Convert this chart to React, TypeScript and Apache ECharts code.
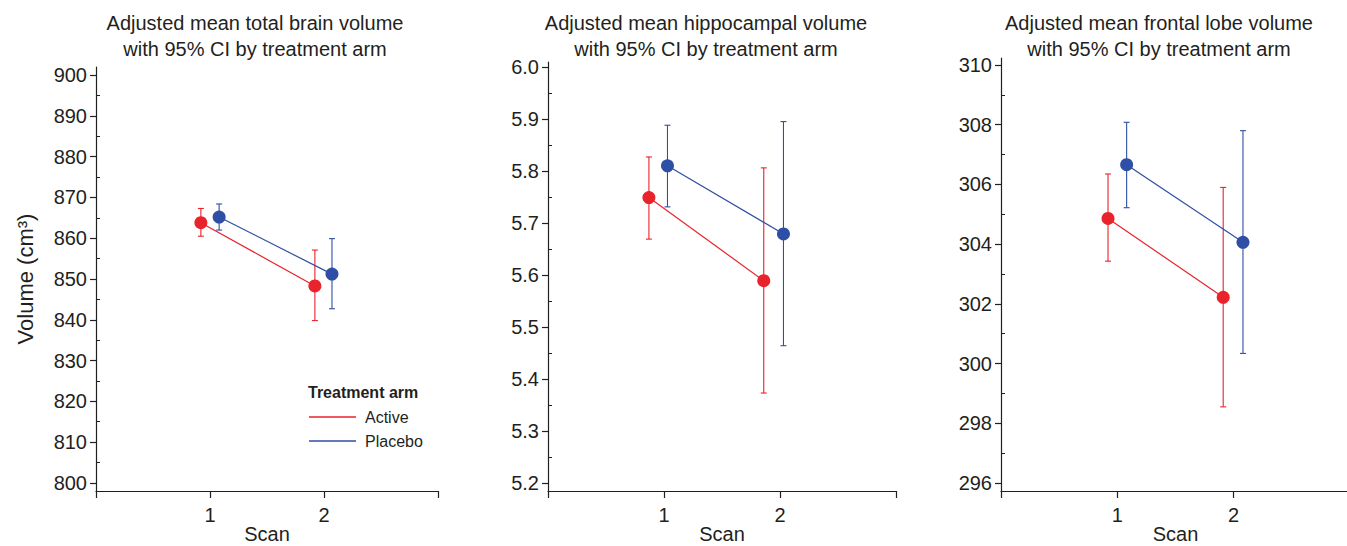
import React, { useEffect, useRef } from "react";
import * as echarts from "echarts";

// ---------- data ----------
const scanLabels = [1, 2];
const armNames = ["Active", "Placebo"];

const panelTitles = [
  "Adjusted mean total brain volume\nwith 95% CI by treatment arm",
  "Adjusted mean hippocampal volume\nwith 95% CI by treatment arm",
  "Adjusted mean frontal lobe volume\nwith 95% CI by treatment arm",
];

// Panel 1: total brain volume
const brainActiveX = [0.92, 1.92];
const brainActiveMean = [863.8, 848.3];
const brainActiveLow = [860.5, 839.8];
const brainActiveHigh = [867.3, 857.1];
const brainPlaceboX = [1.08, 2.07];
const brainPlaceboMean = [865.2, 851.2];
const brainPlaceboLow = [862.0, 842.7];
const brainPlaceboHigh = [868.4, 859.9];
const brainTicks = [800, 810, 820, 830, 840, 850, 860, 870, 880, 890, 900];

// Panel 2: hippocampal volume
const hippoActiveX = [0.87, 1.86];
const hippoActiveMean = [5.749, 5.589];
const hippoActiveLow = [5.669, 5.373];
const hippoActiveHigh = [5.827, 5.806];
const hippoPlaceboX = [1.03, 2.03];
const hippoPlaceboMean = [5.81, 5.679];
const hippoPlaceboLow = [5.731, 5.464];
const hippoPlaceboHigh = [5.888, 5.895];
const hippoTicks = [5.2, 5.3, 5.4, 5.5, 5.6, 5.7, 5.8, 5.9, 6.0];

// Panel 3: frontal lobe volume
const frontalActiveX = [0.92, 1.91];
const frontalActiveMean = [304.86, 302.22];
const frontalActiveLow = [303.43, 298.55];
const frontalActiveHigh = [306.35, 305.9];
const frontalPlaceboX = [1.08, 2.08];
const frontalPlaceboMean = [306.66, 304.06];
const frontalPlaceboLow = [305.22, 300.34];
const frontalPlaceboHigh = [308.08, 307.8];
const frontalTicks = [296, 298, 300, 302, 304, 306, 308, 310];

// ---------- layout / style ----------
const RED = "#e8232b";
const BLUE = "#2f4fa6";
const INK = "#231f20";
const FONT = "'Liberation Sans', Arial, Helvetica, sans-serif";

const panels = [
  {
    title: panelTitles[0], titleX: 255,
    grid: { left: 96, top: 67, width: 342, height: 424 },
    yMin: 798, yMax: 902, ticks: brainTicks, decimals: 0,
    active: { x: brainActiveX, mean: brainActiveMean, low: brainActiveLow, high: brainActiveHigh },
    placebo: { x: brainPlaceboX, mean: brainPlaceboMean, low: brainPlaceboLow, high: brainPlaceboHigh },
  },
  {
    title: panelTitles[1], titleX: 706,
    grid: { left: 548, top: 62, width: 348, height: 429 },
    yMin: 5.1846, yMax: 6.0096, ticks: hippoTicks, decimals: 1,
    active: { x: hippoActiveX, mean: hippoActiveMean, low: hippoActiveLow, high: hippoActiveHigh },
    placebo: { x: hippoPlaceboX, mean: hippoPlaceboMean, low: hippoPlaceboLow, high: hippoPlaceboHigh },
  },
  {
    title: panelTitles[2], titleX: 1159,
    grid: { left: 1001, top: 58, width: 349, height: 433 },
    yMin: 295.732, yMax: 310.234, ticks: frontalTicks, decimals: 0,
    active: { x: frontalActiveX, mean: frontalActiveMean, low: frontalActiveLow, high: frontalActiveHigh },
    placebo: { x: frontalPlaceboX, mean: frontalPlaceboMean, low: frontalPlaceboLow, high: frontalPlaceboHigh },
  },
];

function minorOf(ticks: number[]): number[] {
  const out: number[] = [];
  for (let i = 0; i < ticks.length - 1; i++) out.push((ticks[i] + ticks[i + 1]) / 2);
  return out;
}

function errorBarRender(color: string) {
  return (params: any, api: any) => {
    const x = api.value(0);
    const lo = api.coord([x, api.value(1)]);
    const hi = api.coord([x, api.value(2)]);
    const cap = 3;
    const style = { stroke: color, lineWidth: 1.1 };
    return {
      type: "group",
      children: [
        { type: "line", shape: { x1: lo[0], y1: lo[1], x2: hi[0], y2: hi[1] }, style },
        { type: "line", shape: { x1: lo[0] - cap, y1: lo[1], x2: lo[0] + cap, y2: lo[1] }, style },
        { type: "line", shape: { x1: hi[0] - cap, y1: hi[1], x2: hi[0] + cap, y2: hi[1] }, style },
      ],
    };
  };
}

function buildOption() {
  const grids: any[] = [];
  const xAxes: any[] = [];
  const yAxes: any[] = [];
  const series: any[] = [];
  const titles: any[] = [];

  panels.forEach((p, i) => {
    grids.push({ ...p.grid, containLabel: false, outerBoundsMode: "none" });
    titles.push({
      text: p.title,
      left: p.titleX,
      top: 10,
      padding: 0,
      textAlign: "center",
      textStyle: { fontSize: 20, fontWeight: "normal", color: INK, fontFamily: FONT, lineHeight: 26 },
    });
    xAxes.push({
      gridIndex: i,
      type: "value",
      min: 0,
      max: 3,
      interval: 1,
      axisLine: { show: true, onZero: false, lineStyle: { color: INK, width: 1.2 } },
      axisTick: { show: true, length: 7, lineStyle: { color: INK, width: 1.2 } },
      axisLabel: {
        formatter: (v: number) => (scanLabels.includes(v) ? String(v) : ""),
        fontSize: 20,
        lineHeight: 20,
        color: INK,
        fontFamily: FONT,
        margin: 14,
        showMinLabel: true,
        showMaxLabel: true,
      },
      splitLine: { show: false },
      name: "Scan",
      nameLocation: "middle",
      nameGap: 33,
      nameMoveOverlap: false,
      nameTextStyle: { fontSize: 20, lineHeight: 20, color: INK, fontFamily: FONT },
    });
    yAxes.push({
      gridIndex: i,
      type: "value",
      min: p.yMin,
      max: p.yMax,
      axisLine: { show: true, onZero: false, lineStyle: { color: INK, width: 1.2 } },
      axisTick: { show: true, length: 6, customValues: p.ticks, lineStyle: { color: INK, width: 1.2 } },
      axisLabel: {
        customValues: p.ticks,
        formatter: (v: number) => v.toFixed(p.decimals),
        fontSize: 20,
        color: INK,
        fontFamily: FONT,
        margin: 9,
      },
      splitLine: { show: false },
      ...(i === 0
        ? {
            name: "Volume (cm³)",
            nameLocation: "middle",
            nameGap: 60,
            nameRotate: 90,
            nameTextStyle: { fontSize: 22, color: INK, fontFamily: FONT },
          }
        : {}),
    });
    yAxes.push({
      gridIndex: i,
      type: "value",
      min: p.yMin,
      max: p.yMax,
      axisLine: { show: false },
      axisTick: { show: true, length: 4, customValues: minorOf(p.ticks), lineStyle: { color: INK, width: 1 } },
      axisLabel: { show: false },
      splitLine: { show: false },
    });

    const arms = [
      { name: armNames[0], color: RED, d: p.active },
      { name: armNames[1], color: BLUE, d: p.placebo },
    ];
    arms.forEach((a) => {
      series.push({
        type: "custom",
        xAxisIndex: i,
        yAxisIndex: i * 2,
        renderItem: errorBarRender(a.color),
        data: a.d.x.map((x: number, k: number) => [x, a.d.low[k], a.d.high[k]]),
        encode: { x: 0, y: [1, 2] },
        itemStyle: { color: a.color },
        z: 2,
        silent: true,
        clip: false,
      });
    });
    arms.forEach((a) => {
      series.push({
        type: "line",
        name: a.name,
        xAxisIndex: i,
        yAxisIndex: i * 2,
        data: a.d.x.map((x: number, k: number) => [x, a.d.mean[k]]),
        symbol: "circle",
        symbolSize: 13,
        showSymbol: true,
        color: a.color,
        itemStyle: { color: a.color },
        lineStyle: { color: a.color, width: 1.2 },
        z: 3,
      });
    });
  });

  titles.push({
    text: "Treatment arm",
    left: 308,
    top: 384,
    padding: 0,
    textStyle: { fontSize: 16, fontWeight: "bold", color: INK, fontFamily: FONT },
  });

  return {
    animation: false,
    backgroundColor: "#ffffff",
    textStyle: { fontFamily: FONT, color: INK },
    title: titles,
    grid: grids,
    xAxis: xAxes,
    yAxis: yAxes,
    series,
    legend: {
      data: armNames,
      orient: "vertical",
      left: 309,
      top: 409,
      padding: 0,
      icon: "rect",
      itemWidth: 47,
      itemHeight: 1.3,
      itemGap: 8,
      textStyle: { fontSize: 16, color: INK, fontFamily: FONT, lineHeight: 16, padding: [0, 0, 0, 4] },
      selectedMode: false,
    },
  };
}

export default function App() {
  const ref = useRef<HTMLDivElement>(null);
  useEffect(() => {
    document.body.style.margin = "0";
    document.documentElement.style.overflow = "hidden";
    if (!ref.current) return;
    const chart = echarts.init(ref.current, undefined, { renderer: "svg" });
    chart.setOption(buildOption() as any);
    return () => chart.dispose();
  }, []);
  return (
    <div
      ref={ref}
      style={{ position: "fixed", left: 0, top: 0, width: 1347, height: 546, background: "#fff" }}
    />
  );
}
